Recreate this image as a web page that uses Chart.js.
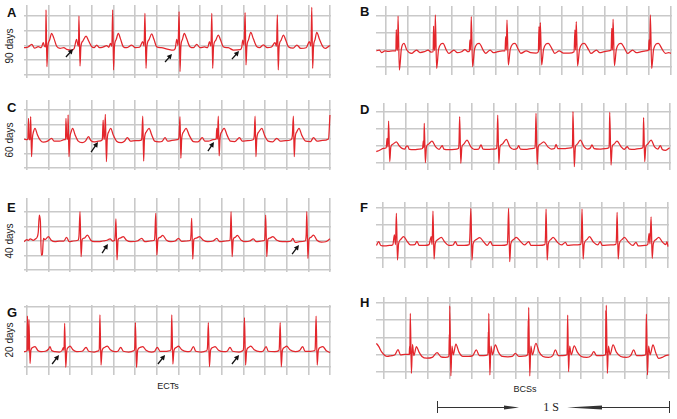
<!DOCTYPE html>
<html>
<head>
<meta charset="utf-8">
<script src="https://cdn.jsdelivr.net/npm/chart.js@4.4.1/dist/chart.umd.min.js"></script>
<style>
  html, body { margin: 0; padding: 0; background: #fff; }
  #fig { position: relative; width: 677px; height: 419px; overflow: hidden; font-family: "Liberation Sans", Arial, sans-serif; }
  #fig canvas { position: absolute; }
  .letter { position: absolute; font-size: 13px; font-weight: bold; color: #111; line-height: 13px; }
  .days { position: absolute; font-size: 10px; color: #222; line-height: 10px; white-space: nowrap; transform: translate(-50%, -50%) rotate(-90deg); }
  .caption { position: absolute; font-size: 9px; color: #222; line-height: 9px; transform: translateX(-50%); }
  .sec { position: absolute; font-family: "Liberation Serif", serif; font-size: 12px; color: #222; line-height: 12px; transform: translateX(-50%); }
</style>
</head>
<body>
<div id="fig"></div>
<script>
// ECG traces, [x, y] with x in grid divisions and y in grid divisions above the lowest line
const traceA = [
  [-0.14,1.85],[0.05,1.9],[0.22,2.08],[0.35,1.82],[0.52,1.92],[0.66,1.85],[0.75,2.19],[0.81,1.95],[0.86,1.9],
  [0.88,4.41],[0.92,0.56],[0.96,1.92],[1.04,2.35],[1.14,2.82],[1.24,2.5],[1.37,1.95],[1.53,1.81],[1.7,1.85],[1.83,1.74],[2.06,1.69],[2.18,1.8],
  [2.29,2.42],[2.35,2.05],[2.38,1.95],[2.40,4.0],[2.45,0.61],[2.49,1.92],[2.58,2.3],[2.73,2.64],[2.85,2.3],[2.99,1.92],[3.1,1.85],[3.22,2.03],[3.35,1.85],[3.52,1.9],[3.68,1.99],[3.78,1.88],
  [3.86,2.15],[3.92,1.95],[3.96,4.41],[4.0,0.34],[4.04,1.92],[4.12,2.4],[4.22,2.82],[4.32,2.45],[4.45,1.92],[4.6,1.85],[4.84,2.03],[5.0,1.85],[5.2,1.88],
  [5.35,2.26],[5.41,1.95],[5.45,4.18],[5.5,0.45],[5.54,1.92],[5.64,2.4],[5.76,2.78],[5.87,2.4],[5.99,1.92],[6.2,1.85],[6.53,1.74],[6.76,1.69],[6.85,1.8],
  [6.92,2.42],[6.98,2.0],[7.03,4.29],[7.07,0.23],[7.11,1.92],[7.18,2.4],[7.27,2.82],[7.38,2.45],[7.53,1.92],[7.7,1.85],[7.84,2.08],[8.0,1.85],[8.2,1.9],[8.35,1.85],
  [8.43,2.26],[8.5,1.95],[8.54,4.18],[8.58,0.45],[8.62,1.92],[8.72,2.35],[8.84,2.71],[8.95,2.35],[9.07,1.92],[9.3,1.85],[9.54,1.69],[9.85,1.72],[9.92,1.85],
  [9.97,2.37],[10.03,2.0],[10.08,4.23],[10.12,0.68],[10.16,1.92],[10.24,2.4],[10.34,2.89],[10.46,2.45],[10.62,1.92],[10.75,1.85],[10.92,2.05],[11.1,1.85],[11.3,1.9],
  [11.46,2.19],[11.53,1.95],[11.57,4.07],[11.61,0.34],[11.65,1.92],[11.74,2.35],[11.85,2.71],[11.96,2.35],[12.08,1.92],[12.3,1.82],[12.47,2.03],[12.65,1.8],[12.9,1.85],
  [13.05,2.26],[13.12,1.95],[13.16,4.59],[13.2,0.45],[13.24,1.92],[13.31,2.4],[13.39,2.89],[13.52,2.4],[13.67,1.92],[13.8,1.8],[13.9,1.9],[14.0,2.0]
];
const traceB = [
  [-0.44,0.95],[-0.3,1.0],[-0.2,0.85],[-0.05,0.95],[0.1,0.92],[0.3,0.95],[0.45,0.95],
  [0.47,2.2],[0.5,1.0],[0.53,1.0],[0.55,3.0],[0.61,-0.18],[0.7,1.05],[0.82,1.39],[0.95,1.0],[1.16,0.8],[1.39,1.0],[1.55,0.85],[1.75,0.9],[1.92,1.0],[2.05,0.88],[2.15,0.9],
  [2.17,2.4],[2.2,1.0],[2.23,1.0],[2.25,3.06],[2.31,-0.08],[2.4,1.05],[2.6,1.39],[2.75,1.0],[2.86,0.8],[3.1,1.0],[3.25,0.84],[3.45,0.9],[3.6,1.02],[3.75,0.9],[3.8,0.92],
  [3.83,1.59],[3.86,1.0],[3.89,2.96],[3.95,0.02],[4.04,1.05],[4.25,1.39],[4.45,0.95],[4.55,0.8],[4.75,1.0],[4.9,0.84],[5.1,0.9],[5.3,0.95],[5.43,0.95],
  [5.46,1.78],[5.49,1.0],[5.52,2.76],[5.58,0.12],[5.67,1.05],[5.88,1.39],[6.05,1.0],[6.15,0.8],[6.4,0.95],[6.6,0.84],[6.85,0.82],[6.95,0.9],
  [6.98,2.37],[7.01,1.0],[7.04,2.61],[7.1,0.12],[7.19,1.05],[7.4,1.39],[7.6,1.0],[7.7,0.8],[7.9,0.95],[8.1,0.82],[8.35,0.82],[8.58,0.9],
  [8.62,2.18],[8.65,1.0],[8.68,2.67],[8.74,0.06],[8.83,1.05],[9.04,1.39],[9.25,1.0],[9.35,0.8],[9.6,1.0],[9.75,0.84],[9.95,0.9],[10.15,0.95],[10.27,1.0],
  [10.3,2.27],[10.33,1.0],[10.36,2.8],[10.42,0.08],[10.51,1.05],[10.72,1.39],[10.92,1.0],[11.02,0.8],[11.25,1.0],[11.42,0.84],[11.65,0.9],[11.85,0.95],[11.98,1.0],
  [12.0,1.59],[12.03,1.0],[12.06,3.06],[12.12,-0.08],[12.21,1.05],[12.42,1.39],[12.62,1.0],[12.75,0.8],[12.9,0.85],[13.0,0.8]
];
const traceC = [
  [-0.14,2.0],[-0.05,1.95],[0.04,2.0],[0.07,3.43],[0.1,1.95],[0.14,1.95],[0.17,3.54],[0.21,0.78],[0.25,2.05],[0.3,2.5],[0.37,2.74],[0.48,2.3],[0.62,1.9],[0.75,1.78],[0.95,1.85],[1.14,2.05],[1.25,1.85],[1.5,1.85],[1.72,1.95],
  [1.78,1.95],[1.8,3.43],[1.84,2.0],[1.88,2.0],[1.9,3.66],[1.94,0.78],[1.98,2.05],[2.04,2.5],[2.11,2.74],[2.22,2.3],[2.37,1.85],[2.55,1.75],[2.7,1.85],[2.84,2.16],[2.95,1.9],[3.1,1.8],[3.3,1.85],[3.48,1.95],
  [3.52,3.31],[3.55,2.0],[3.58,2.0],[3.62,3.7],[3.67,0.44],[3.71,2.05],[3.78,2.5],[3.87,2.74],[3.98,2.3],[4.14,1.85],[4.35,1.75],[4.5,1.85],[4.64,2.09],[4.78,1.85],[5.0,1.88],[5.25,1.9],
  [5.3,2.0],[5.35,3.57],[5.39,0.48],[5.43,2.05],[5.52,2.5],[5.64,2.74],[5.76,2.3],[5.9,1.85],[6.1,1.8],[6.25,1.85],[6.38,2.09],[6.5,1.85],[6.7,1.9],[6.95,1.95],
  [7.02,2.1],[7.07,3.54],[7.11,0.67],[7.15,2.05],[7.24,2.5],[7.35,2.74],[7.5,2.25],[7.69,1.82],[7.9,1.8],[8.1,2.09],[8.22,1.85],[8.38,1.85],[8.6,1.95],[8.74,2.0],
  [8.77,2.74],[8.8,2.0],[8.84,3.57],[8.88,0.83],[8.92,2.05],[9.0,2.5],[9.11,2.74],[9.25,2.25],[9.4,1.85],[9.6,1.82],[9.82,2.09],[9.95,1.85],[10.2,1.88],[10.45,1.95],
  [10.5,2.2],[10.54,3.57],[10.58,0.78],[10.62,2.05],[10.72,2.5],[10.85,2.74],[10.98,2.25],[11.15,1.85],[11.35,1.8],[11.54,2.05],[11.7,1.85],[11.95,1.88],[12.2,1.95],
  [12.26,2.2],[12.31,3.57],[12.35,0.78],[12.39,2.05],[12.47,2.5],[12.57,2.74],[12.7,2.25],[12.88,1.85],[13.1,1.82],[13.24,2.09],[13.4,1.85],[13.65,1.9],[13.93,2.0],[14.0,3.66]
];
const traceD = [
  [-0.35,0.67],[-0.2,0.75],[-0.02,0.86],[0.1,0.9],[0.14,1.45],[0.18,0.95],[0.21,2.47],[0.26,0.08],[0.31,0.95],[0.4,1.1],[0.56,1.25],[0.7,1.0],[0.82,0.86],[0.95,0.82],[1.02,1.0],[1.08,1.0],[1.15,0.8],[1.4,0.78],[1.6,0.82],[1.75,0.85],
  [1.79,1.3],[1.81,0.9],[1.83,2.33],[1.88,0.02],[1.93,0.95],[2.02,1.1],[2.18,1.29],[2.35,0.95],[2.5,0.8],[2.65,1.02],[2.72,0.82],[2.95,0.78],[3.2,0.8],[3.38,0.85],
  [3.41,1.2],[3.44,2.73],[3.49,-0.02],[3.54,0.95],[3.62,1.1],[3.77,1.35],[3.95,0.95],[4.1,0.8],[4.3,0.82],[4.41,1.06],[4.5,0.82],[4.75,0.8],[5.0,0.82],[5.12,0.85],
  [5.14,1.3],[5.17,2.82],[5.22,-0.02],[5.27,0.95],[5.37,1.1],[5.56,1.39],[5.72,0.95],[5.9,0.8],[6.05,0.85],[6.12,1.02],[6.2,0.82],[6.5,0.8],[6.7,0.85],[6.86,0.88],
  [6.88,1.25],[6.91,2.92],[6.96,-0.08],[7.01,0.95],[7.1,1.1],[7.26,1.25],[7.45,0.95],[7.6,0.82],[7.75,0.85],[7.82,1.1],[7.9,0.85],[8.2,0.85],[8.4,0.88],[8.55,0.9],
  [8.57,1.2],[8.59,3.02],[8.65,-0.22],[8.7,0.95],[8.78,1.1],[8.92,1.35],[9.1,0.95],[9.25,0.82],[9.38,0.88],[9.45,1.06],[9.55,0.85],[9.8,0.82],[10.05,0.85],[10.22,0.9],
  [10.24,1.25],[10.26,2.98],[10.32,-0.12],[10.37,0.95],[10.45,1.1],[10.59,1.29],[10.78,0.95],[10.92,0.8],[11.0,0.9],[11.05,0.96],[11.15,0.82],[11.4,0.8],[11.6,0.85],[11.76,0.9],
  [11.78,1.25],[11.8,2.67],[11.85,0.08],[11.9,0.95],[11.98,1.1],[12.14,1.35],[12.3,0.95],[12.45,0.82],[12.56,1.02],[12.65,0.8],[12.8,0.75],[12.98,0.9]
];
const traceE = [
  [-0.14,1.95],[0.0,2.1],[0.06,2.05],[0.15,2.15],[0.29,2.05],[0.4,2.15],[0.48,2.3],[0.52,2.6],[0.57,3.79],[0.62,3.3],[0.66,1.03],[0.71,1.05],[0.76,2.18],[0.83,2.1],[0.99,2.3],[1.12,2.05],[1.29,1.95],[1.5,2.0],[1.7,2.0],[1.83,2.25],[1.95,1.95],[2.15,2.0],[2.35,2.05],
  [2.4,2.3],[2.45,4.02],[2.5,0.92],[2.55,2.1],[2.65,2.2],[2.79,2.41],[2.95,2.05],[3.1,1.95],[3.3,1.95],[3.5,2.0],[3.7,2.05],[3.84,2.15],[3.95,2.0],[4.05,2.05],
  [4.08,2.5],[4.11,3.52],[4.16,0.69],[4.21,2.1],[4.3,2.2],[4.45,2.3],[4.6,2.05],[4.8,1.95],[5.1,2.0],[5.3,2.18],[5.45,1.95],[5.7,2.0],[5.88,2.05],
  [5.91,2.4],[5.95,3.91],[6.0,1.03],[6.05,2.1],[6.15,2.25],[6.27,2.38],[6.45,2.05],[6.65,1.95],[6.85,2.0],[7.0,2.18],[7.15,1.98],[7.4,2.0],[7.55,2.05],
  [7.58,2.5],[7.61,3.56],[7.66,0.75],[7.71,2.1],[7.82,2.2],[7.97,2.3],[8.15,2.05],[8.35,1.95],[8.6,2.0],[8.77,2.18],[8.9,1.95],[9.2,2.0],[9.38,2.05],
  [9.4,2.4],[9.43,4.02],[9.48,0.92],[9.53,2.1],[9.62,2.25],[9.72,2.38],[9.9,2.05],[10.1,1.95],[10.3,2.0],[10.46,2.15],[10.6,1.95],[10.85,2.0],[10.98,2.05],
  [11.0,2.5],[11.03,3.79],[11.08,0.92],[11.13,2.1],[11.22,2.2],[11.36,2.3],[11.55,2.05],[11.8,1.95],[12.05,1.95],[12.2,2.0],[12.28,2.18],[12.4,1.9],[12.6,1.95],[12.85,2.0],
  [12.9,2.4],[12.93,4.02],[12.98,0.8],[13.03,2.1],[13.12,2.25],[13.24,2.41],[13.4,2.05],[13.6,1.92],[13.8,1.95],[14.0,2.15]
];
const traceF = [
  [-0.3,0.75],[-0.2,0.98],[-0.1,0.75],[0.1,0.72],[0.3,0.75],[0.45,0.8],[0.52,1.38],[0.57,0.8],[0.61,2.67],[0.66,-0.12],[0.71,0.85],[0.8,1.1],[0.94,1.28],[1.1,1.0],[1.25,0.78],[1.45,0.8],[1.55,1.0],[1.65,0.75],[1.9,0.75],[2.1,0.8],
  [2.2,1.28],[2.24,0.8],[2.28,2.81],[2.33,-0.06],[2.38,0.85],[2.5,1.1],[2.66,1.24],[2.82,0.95],[3.0,0.75],[3.2,0.78],[3.3,0.98],[3.4,0.75],[3.7,0.75],[3.93,0.8],
  [3.96,1.2],[4.01,2.97],[4.06,-0.12],[4.11,0.85],[4.25,1.1],[4.41,1.22],[4.6,0.95],[4.75,0.75],[4.9,0.98],[5.0,0.75],[5.4,0.75],[5.66,0.8],
  [5.69,1.2],[5.73,2.97],[5.78,-0.22],[5.83,0.85],[5.95,1.1],[6.08,1.24],[6.3,0.95],[6.45,0.78],[6.65,0.98],[6.75,0.75],[7.1,0.75],[7.38,0.8],
  [7.41,1.2],[7.44,2.93],[7.49,-0.12],[7.54,0.85],[7.65,1.1],[7.76,1.24],[7.95,0.95],[8.15,0.78],[8.32,0.94],[8.42,0.75],[8.7,0.78],[9.02,0.82],
  [9.05,1.2],[9.08,2.93],[9.13,-0.06],[9.18,0.85],[9.3,1.1],[9.42,1.28],[9.6,0.95],[9.8,0.78],[9.91,0.98],[10.0,0.75],[10.4,0.78],[10.62,0.82],
  [10.65,1.2],[10.68,2.73],[10.73,-0.06],[10.78,0.85],[10.9,1.1],[11.01,1.24],[11.2,0.95],[11.4,0.75],[11.54,0.94],[11.65,0.72],[11.95,0.75],[12.08,0.82],
  [12.14,1.48],[12.18,0.85],[12.23,2.47],[12.28,-0.02],[12.33,0.85],[12.45,1.1],[12.58,1.24],[12.75,0.95],[12.9,0.8],[12.96,0.98],[13.0,0.68]
];
const traceG = [
  [-0.14,1.02],[-0.04,1.05],[0.0,1.1],[0.02,3.4],[0.05,1.2],[0.07,1.1],[0.09,3.18],[0.14,0.24],[0.18,1.1],[0.26,1.3],[0.37,1.36],[0.5,1.1],[0.65,1.02],[0.85,1.05],[1.0,1.2],[1.06,1.36],[1.14,1.1],[1.3,1.02],[1.5,1.0],[1.62,1.1],
  [1.68,1.3],[1.71,1.1],[1.74,2.91],[1.79,-0.02],[1.84,1.1],[1.9,1.3],[1.99,1.4],[2.12,1.15],[2.3,1.02],[2.55,1.05],[2.73,1.31],[2.85,1.05],[3.1,1.0],[3.3,1.08],
  [3.34,1.2],[3.37,3.47],[3.42,0.13],[3.47,1.1],[3.58,1.3],[3.71,1.4],[3.85,1.15],[4.05,1.02],[4.2,1.05],[4.33,1.31],[4.45,1.05],[4.7,1.0],[4.95,1.1],
  [4.98,1.3],[5.01,2.96],[5.06,-0.02],[5.11,1.1],[5.22,1.3],[5.35,1.36],[5.5,1.12],[5.75,1.0],[5.9,1.05],[6.02,1.31],[6.15,1.05],[6.45,1.05],[6.63,1.1],
  [6.66,1.25],[6.69,3.47],[6.74,0.2],[6.79,1.1],[6.9,1.3],[7.0,1.4],[7.15,1.15],[7.4,1.02],[7.55,1.05],[7.69,1.36],[7.8,1.05],[8.05,1.0],[8.3,1.08],
  [8.34,1.3],[8.38,2.96],[8.43,0.02],[8.48,1.1],[8.58,1.3],[8.69,1.36],[8.85,1.12],[9.1,1.02],[9.25,1.05],[9.38,1.31],[9.5,1.05],[9.8,1.0],[9.98,1.1],
  [10.01,1.3],[10.05,3.3],[10.1,0.13],[10.15,1.1],[10.24,1.3],[10.34,1.4],[10.5,1.15],[10.75,1.02],[10.9,1.05],[11.05,1.36],[11.15,1.05],[11.45,1.02],[11.64,1.1],
  [11.66,1.3],[11.7,2.96],[11.75,0.02],[11.8,1.1],[11.9,1.3],[12.0,1.4],[12.15,1.15],[12.4,1.02],[12.6,1.1],[12.74,1.36],[12.85,1.05],[13.1,1.05],[13.3,1.1],
  [13.32,1.3],[13.36,3.4],[13.41,0.13],[13.46,1.1],[13.55,1.3],[13.67,1.36],[13.82,1.1],[14.0,0.96]
];
const traceH = [
  [-0.35,1.66],[-0.25,1.5],[-0.1,1.15],[0.14,0.9],[0.35,0.95],[0.5,1.0],[0.64,1.3],[0.75,1.0],[0.95,1.02],[1.15,1.02],
  [1.17,1.5],[1.18,1.02],[1.2,3.4],[1.25,-0.08],[1.3,1.6],[1.36,0.95],[1.48,1.47],[1.6,1.15],[1.73,0.9],[1.95,0.8],[2.2,0.85],[2.42,1.12],[2.6,0.88],[2.8,0.85],[2.96,0.9],
  [2.98,2.2],[2.99,1.0],[3.0,3.83],[3.05,-0.23],[3.1,1.5],[3.16,1.0],[3.28,1.62],[3.42,1.15],[3.6,0.9],[3.85,0.9],[4.05,0.95],[4.21,1.28],[4.35,0.95],[4.55,0.95],[4.74,1.0],
  [4.76,2.34],[4.77,1.1],[4.78,3.4],[4.83,-0.17],[4.88,1.5],[4.95,1.0],[5.08,1.57],[5.22,1.15],[5.4,0.9],[5.65,0.88],[5.85,0.9],[5.99,1.08],[6.15,0.9],[6.35,0.92],[6.56,1.0],
  [6.58,3.01],[6.59,1.1],[6.6,3.75],[6.65,-0.23],[6.7,1.5],[6.77,1.0],[6.93,1.66],[7.08,1.15],[7.25,0.9],[7.5,0.85],[7.7,0.95],[7.82,1.28],[7.95,0.95],[8.15,0.95],[8.35,1.0],
  [8.36,1.6],[8.38,3.3],[8.42,0.02],[8.47,1.5],[8.54,1.0],[8.68,1.51],[8.82,1.15],[9.0,0.9],[9.25,0.85],[9.45,0.95],[9.57,1.18],[9.7,0.95],[9.9,0.95],[10.11,1.0],
  [10.12,3.59],[10.13,1.1],[10.14,3.88],[10.19,-0.08],[10.24,1.5],[10.31,1.0],[10.45,1.57],[10.6,1.15],[10.8,0.9],[11.05,0.85],[11.25,0.95],[11.39,1.28],[11.52,0.95],[11.75,0.95],[11.94,1.0],
  [11.95,1.6],[11.97,3.36],[12.02,-0.17],[12.07,1.5],[12.14,1.0],[12.27,1.57],[12.4,1.1],[12.53,0.79],[12.7,0.85],[12.85,0.95],[13.0,0.99]
];

// arrows marking P waves: [tailX, tailY, headX, headY]
const arrowsA = [[1.80,1.22,2.13,1.76],[6.38,0.88,6.70,1.42],[9.47,1.08,9.80,1.63]];
const arrowsC = [[2.96,1.10,3.28,1.79],[8.36,1.17,8.64,1.79]];
const arrowsE = [[3.47,1.17,3.74,1.79],[12.25,1.10,12.57,1.72]];
const arrowsG = [[1.16,0.20,1.48,0.80],[6.05,0.20,6.38,0.80],[9.47,0.20,9.80,0.80]];

const RED = "#e3262c";
const GRID = "#c9c9c9";

// pixel layout: x0/y0 = page position of grid line 0, dx/dy = pixels per division
const panels = [
  { trace: traceA, arrows: arrowsA, x0: 27, dx: 21.64, nx: 14, y0: 75, dy: 14.75, ny: 4, left: 24, top: 5, right: 331, bottom: 78 },
  { trace: traceB, arrows: [], x0: 386, dx: 21.92, nx: 13, y0: 67, dy: 17, ny: 3, left: 376, top: 6, right: 672, bottom: 75 },
  { trace: traceC, arrows: arrowsC, x0: 27, dx: 21.64, nx: 14, y0: 168, dy: 14.5, ny: 4, left: 24, top: 100, right: 331, bottom: 170 },
  { trace: traceD, arrows: [], x0: 384, dx: 22, nx: 13, y0: 163, dy: 17, ny: 3, left: 376, top: 103, right: 671, bottom: 170 },
  { trace: traceE, arrows: arrowsE, x0: 27, dx: 21.64, nx: 14, y0: 270, dy: 14.5, ny: 4, left: 24, top: 198, right: 331, bottom: 272 },
  { trace: traceF, arrows: [], x0: 383, dx: 21.92, nx: 13, y0: 258, dy: 16.7, ny: 3, left: 376, top: 202, right: 669, bottom: 268 },
  { trace: traceG, arrows: arrowsG, x0: 27, dx: 21.64, nx: 14, y0: 367, dy: 15, ny: 4, left: 24, top: 305, right: 331, bottom: 375 },
  { trace: traceH, arrows: [], x0: 384, dx: 21.92, nx: 13, y0: 372, dy: 17.25, ny: 4, left: 376, top: 297, right: 670, bottom: 379 }
];

const fig = document.getElementById("fig");

const arrowPlugin = {
  id: "arrows",
  afterDatasetsDraw(chart, args, opts) {
    const ctx = chart.ctx;
    const xs = chart.scales.x, ys = chart.scales.y;
    ctx.save();
    ctx.strokeStyle = "#111";
    ctx.fillStyle = "#111";
    ctx.lineWidth = 1.3;
    (opts.list || []).forEach(([x1, y1, x2, y2]) => {
      const ax = xs.getPixelForValue(x1), ay = ys.getPixelForValue(y1);
      const bx = xs.getPixelForValue(x2), by = ys.getPixelForValue(y2);
      const ang = Math.atan2(by - ay, bx - ax);
      ctx.beginPath();
      ctx.moveTo(ax, ay);
      ctx.lineTo(bx - 3 * Math.cos(ang), by - 3 * Math.sin(ang));
      ctx.stroke();
      ctx.beginPath();
      ctx.moveTo(bx, by);
      ctx.lineTo(bx - 5 * Math.cos(ang) + 2.6 * Math.sin(ang), by - 5 * Math.sin(ang) - 2.6 * Math.cos(ang));
      ctx.lineTo(bx - 5 * Math.cos(ang) - 2.6 * Math.sin(ang), by - 5 * Math.sin(ang) + 2.6 * Math.cos(ang));
      ctx.closePath();
      ctx.fill();
    });
    ctx.restore();
  }
};

function intTicks(n) {
  const t = [];
  for (let i = 0; i <= n; i++) t.push({ value: i });
  return t;
}

panels.forEach((p) => {
  const w = p.right - p.left, h = p.bottom - p.top;
  const canvas = document.createElement("canvas");
  canvas.width = w;
  canvas.height = h;
  canvas.style.left = p.left + "px";
  canvas.style.top = p.top + "px";
  canvas.style.width = w + "px";
  canvas.style.height = h + "px";
  fig.appendChild(canvas);

  new Chart(canvas, {
    type: "line",
    data: {
      datasets: [{
        data: p.trace.map(([x, y]) => ({ x, y })),
        borderColor: RED,
        borderWidth: 1.25,
        pointRadius: 0,
        cubicInterpolationMode: "monotone",
        fill: false
      }]
    },
    options: {
      responsive: false,
      animation: false,
      devicePixelRatio: 1,
      events: [],
      layout: { padding: 0 },
      plugins: { legend: { display: false }, tooltip: { enabled: false }, arrows: { list: p.arrows } },
      scales: {
        x: {
          type: "linear",
          min: (p.left - p.x0) / p.dx,
          max: (p.right - p.x0) / p.dx,
          afterBuildTicks: (s) => { s.ticks = intTicks(p.nx); },
          ticks: { display: false },
          grid: { color: GRID, lineWidth: 1.6, drawTicks: false },
          border: { display: false }
        },
        y: {
          type: "linear",
          min: (p.y0 - p.bottom) / p.dy,
          max: (p.y0 - p.top) / p.dy,
          afterBuildTicks: (s) => { s.ticks = intTicks(p.ny); },
          ticks: { display: false },
          grid: { color: GRID, lineWidth: 1.6, drawTicks: false },
          border: { display: false }
        }
      }
    },
    plugins: [arrowPlugin]
  });
});

// panel letters and day labels
const letters = [["A", 7, 6], ["B", 360, 5], ["C", 7, 101], ["D", 360, 103], ["E", 7, 201], ["F", 360, 201], ["G", 7, 306], ["H", 360, 296]];
letters.forEach(([t, x, y]) => {
  const d = document.createElement("div");
  d.className = "letter";
  d.textContent = t;
  d.style.left = x + "px";
  d.style.top = y + "px";
  fig.appendChild(d);
});
const days = [["90 days", 10, 46], ["60 days", 10, 140], ["40 days", 10, 241], ["20 days", 10, 340]];
days.forEach(([t, x, y]) => {
  const d = document.createElement("div");
  d.className = "days";
  d.textContent = t;
  d.style.left = x + "px";
  d.style.top = y + "px";
  fig.appendChild(d);
});
[["ECTs", 168, 382], ["BCSs", 525, 385]].forEach(([t, x, y]) => {
  const d = document.createElement("div");
  d.className = "caption";
  d.textContent = t;
  d.style.left = x + "px";
  d.style.top = y + "px";
  fig.appendChild(d);
});
const sec = document.createElement("div");
sec.className = "sec";
sec.textContent = "1 S";
sec.style.left = "551px";
sec.style.top = "401px";
fig.appendChild(sec);

// 1 s scale bar
const bar = document.createElement("canvas");
bar.width = 250; bar.height = 24;
bar.style.left = "427px"; bar.style.top = "395px";
fig.appendChild(bar);
const bc = bar.getContext("2d");
bc.translate(-427, -395);
bc.strokeStyle = "#333";
bc.fillStyle = "#333";
bc.lineWidth = 1;
bc.beginPath();
bc.moveTo(437.5, 401); bc.lineTo(437.5, 413);
bc.moveTo(669.5, 401); bc.lineTo(669.5, 413);
bc.moveTo(437, 407.5); bc.lineTo(508, 407.5);
bc.moveTo(590, 407.5); bc.lineTo(670, 407.5);
bc.stroke();
bc.beginPath();
bc.moveTo(504, 405.5); bc.lineTo(519, 407.5); bc.lineTo(504, 409.5); bc.closePath();
bc.fill();
bc.beginPath();
bc.moveTo(567, 407.5); bc.lineTo(602, 405.6); bc.lineTo(602, 409.4); bc.closePath();
bc.fill();
</script>
</body>
</html>
